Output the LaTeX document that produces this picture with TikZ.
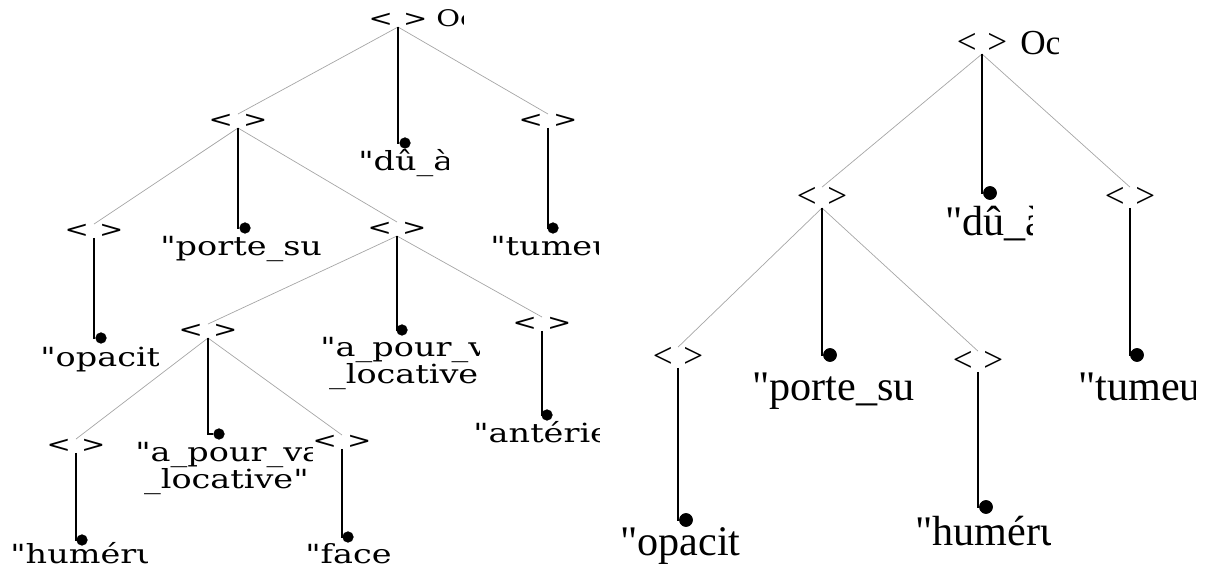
\documentclass[tikz,border=0pt]{standalone}
\usepackage{fontspec}
\newfontfamily\rfont{Liberation Serif}
\newfontfamily\lfont[FakeStretch=1.27]{DejaVu Serif}
\usepackage{tikz}

% text cut off at a right edge
\newcommand\cuttext[6]{%
  \begin{scope}
    \clip (#3-15,#4-60) rectangle (#5,#4+30);
    \node[#1,anchor=base west] (#2) at (#3,#4) {#6};
  \end{scope}}
\newcommand\lgap{<\hspace{0.45em}>}
\newcommand\rgap{<\hspace{0.3em}>}

\begin{document}
\begin{tikzpicture}
    [
        x=0.02cm, y=-0.02cm,
        ldot/.style={circle,fill=black,draw=black,inner sep=0,minimum size=0.21cm},
        rdot/.style={circle,fill=black,draw=black,inner sep=0,minimum size=0.26cm},
        lfeat/.style={inner sep=0,anchor=south,font=\lfont\fontsize{13}{13}\selectfont},
        rfeat/.style={inner sep=0,anchor=south,font=\rfont\fontsize{20}{20}\selectfont},
        lleaf/.style={inner sep=0,align=left,font=\lfont\fontsize{15}{12}\selectfont},
        rleaf/.style={inner sep=0,align=left,font=\rfont\fontsize{24}{24}\selectfont},
        branch/.style={draw=gray!70,line width=0.4pt},
        stem/.style={draw=black,line width=0.8pt},
    ]
    \useasboundingbox (0,0) rectangle (1205,574);

    % left tree
    \coordinate (l0) at (398,27);
    \coordinate (l1) at (238,128);
    \coordinate (l2) at (548,128);
    \coordinate (l11) at (94,238);
    \coordinate (l13) at (397,236);
    \coordinate (l131) at (208,338);
    \coordinate (l133) at (542,331);
    \coordinate (l1311) at (76,453);
    \coordinate (l1313) at (342,449);

    \node[lfeat] (l0t) at (l0) {\lgap};
    \node[lfeat] (l1t) at (l1) {\lgap};
    \node[lfeat] (l2t) at (l2) {\lgap};
    \node[lfeat] (l11t) at (l11) {\lgap};
    \node[lfeat] (l13t) at (l13) {\lgap};
    \node[lfeat] (l131t) at (l131) {\lgap};
    \node[lfeat] (l133t) at (l133) {\lgap};
    \node[lfeat] (l1311t) at (l1311) {\lgap};
    \node[lfeat] (l1313t) at (l1313) {\lgap};
    \cuttext{lfeat}{l0n}{436}{27}{463}{Oc}

    \node[ldot] (ld0) at (405,143) {};
    \node[ldot] (ld1) at (245,228) {};
    \node[ldot] (ld2) at (553,228) {};
    \node[ldot] (ld11) at (101,338) {};
    \node[ldot] (ld13) at (402,330) {};
    \node[ldot] (ld133) at (547,415) {};
    \node[ldot] (ld131) at (219,434) {};
    \node[ldot] (ld1311) at (82,540) {};
    \node[ldot] (ld1313) at (348,537) {};

    \cuttext{lleaf}{lt0}{358}{171}{448}{"dû\_à}
    \cuttext{lleaf}{lt1}{160}{256}{329}{"porte\_su}
    \cuttext{lleaf}{lt2}{490}{256}{598}{"tumeu}
    \cuttext{lleaf}{lt11}{40}{367}{158}{"opacité}
    \cuttext{lleaf}{lt13}{320}{384}{479}{"a\_pour\_v\\[-0.5pt]\hspace{5pt}\_locative"}
    \cuttext{lleaf}{lt133}{473}{443}{599}{"antérieu}
    \cuttext{lleaf}{lt131}{135}{489}{312}{"a\_pour\_va\\[-0.5pt]\hspace{5pt}\_locative"}
    \cuttext{lleaf}{lt1311}{10}{563}{147}{"huméru}
    \cuttext{lleaf}{lt1313}{305}{563}{390}{"face}

    \draw[branch] (l0) -- (l1t.north);
    \draw[branch] (l0) -- (l2t.north);
    \draw[branch] (l1) -- (l11t.north);
    \draw[branch] (l1) -- (l13t.north);
    \draw[branch] (l13) -- (l131t.north);
    \draw[branch] (l13) -- (l133t.north);
    \draw[branch] (l131) -- (l1311t.north);
    \draw[branch] (l131) -- (l1313t.north);

    \draw[stem] (l0) |- (ld0.west);
    \draw[stem] (l1) |- (ld1.west);
    \draw[stem] (l2) |- (ld2.west);
    \draw[stem] (l11) |- (ld11.west);
    \draw[stem] (l13) |- (ld13.west);
    \draw[stem] (l133) |- (ld133.west);
    \draw[stem] (l131) |- (ld131.west);
    \draw[stem] (l1311) |- (ld1311.west);
    \draw[stem] (l1313) |- (ld1313.west);

    % right tree
    \coordinate (r0) at (982,54);
    \coordinate (r1) at (822,208);
    \coordinate (r2) at (1130,208);
    \coordinate (r11) at (678,368);
    \coordinate (r13) at (978,372);

    \node[rfeat] (r0t) at (r0) {\rgap};
    \node[rfeat] (r1t) at (r1) {\rgap};
    \node[rfeat] (r2t) at (r2) {\rgap};
    \node[rfeat] (r11t) at (r11) {\rgap};
    \node[rfeat] (r13t) at (r13) {\rgap};
    \cuttext{rfeat}{r0n}{1020}{55}{1058}{Oc}

    \node[rdot] (rd0) at (990,193) {};
    \node[rdot] (rd1) at (830,355) {};
    \node[rdot] (rd2) at (1137,355) {};
    \node[rdot] (rd11) at (686,520) {};
    \node[rdot] (rd13) at (986,507) {};

    \cuttext{rleaf}{rt0}{945}{236}{1032}{"dû\_à}
    \cuttext{rleaf}{rt1}{752}{401}{913}{"porte\_su}
    \cuttext{rleaf}{rt2}{1078}{401}{1195}{"tumeu}
    \cuttext{rleaf}{rt11}{620}{556}{740}{"opacité}
    \cuttext{rleaf}{rt13}{915}{545}{1050}{"huméru}

    \draw[branch] (r0) -- (r1t.north);
    \draw[branch] (r0) -- (r2t.north);
    \draw[branch] (r1) -- (r11t.north);
    \draw[branch] (r1) -- (r13t.north);

    \draw[stem] (r0) |- (rd0.west);
    \draw[stem] (r1) |- (rd1.west);
    \draw[stem] (r2) |- (rd2.west);
    \draw[stem] (r11) |- (rd11.west);
    \draw[stem] (r13) |- (rd13.west);
\end{tikzpicture}
\end{document}
